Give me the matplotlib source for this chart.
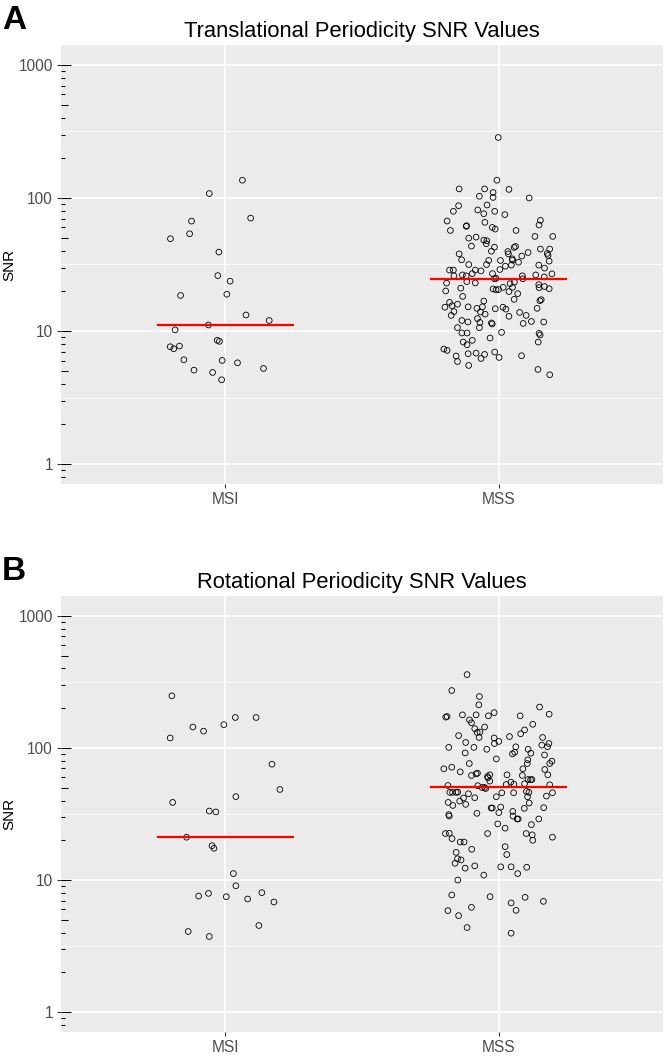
import numpy as np
import matplotlib
matplotlib.use("Agg")
import matplotlib.pyplot as plt

plt.rcParams['font.family'] = ['Liberation Sans', 'DejaVu Sans']

# ---------------- data ----------------
groups = ["MSI", "MSS"]
panel_letters = ["A", "B"]
titles = ["Translational Periodicity SNR Values", "Rotational Periodicity SNR Values"]
y_label = "SNR"
y_ticks = [1, 10, 100, 1000]
y_ticklabels = ["1", "10", "100", "1000"]

transl_msi = [136, 108, 70.6, 67.0, 53.8, 49.4, 39.2, 26.1, 23.7, 18.9, 18.5, 13.2, 12.0, 11.1,
              10.2, 7.62, 7.36, 7.71, 8.51, 8.36, 6.08, 6.01, 5.77, 5.08, 4.88, 5.23, 4.30]
transl_msi_jitter = [0.063, -0.058, 0.093, -0.123, -0.130, -0.200, -0.023, -0.027, 0.018, 0.006,
                     -0.163, 0.076, 0.161, -0.061, -0.183, -0.201, -0.188, -0.167, -0.029, -0.021,
                     -0.151, -0.011, 0.045, -0.114, -0.046, 0.140, -0.013]

transl_mss = [285, 136, 117, 117, 116, 110, 103, 101, 100, 87.5,
              88.5, 79.4, 81.3, 76.2, 79.4, 75.0, 67.1, 67.9, 62.6, 61.9,
              61.2, 65.6, 60.1, 58.4, 57.0, 57.0, 49.9, 50.8, 48.2, 47.7,
              51.4, 51.4, 43.5, 42.7, 41.3, 41.3, 43.2, 42.5, 39.6, 38.0,
              38.0, 39.8, 38.9, 36.6, 38.3, 37.0, 34.3, 33.9, 33.9, 34.9,
              34.1, 32.9, 33.5, 31.6, 31.6, 31.3, 31.3, 28.7, 28.7, 29.0,
              28.7, 28.3, 27.0, 27.0, 29.7, 26.0, 26.4, 26.0, 24.7, 24.9,
              26.0, 24.7, 26.4, 25.5, 26.9, 23.5, 23.0, 22.9, 22.7, 23.3,
              21.0, 20.7, 20.4, 20.5, 21.3, 21.3, 19.8, 22.3, 21.2, 21.6,
              20.8, 20.0, 19.1, 18.2, 17.3, 16.9, 17.2, 16.4, 15.9, 16.8,
              15.5, 15.1, 15.2, 14.8, 15.2, 14.7, 15.1, 14.6, 14.8, 14.0,
              13.1, 13.9, 13.4, 12.9, 13.8, 13.1, 12.4, 12.0, 11.7, 11.6,
              11.5, 11.3, 11.4, 11.8, 11.7, 10.6, 10.6, 9.66, 9.66, 9.77,
              8.86, 9.60, 9.33, 8.26, 8.51, 7.89, 8.26, 7.32, 7.15, 6.75,
              6.82, 6.67, 6.95, 6.33, 6.22, 6.52, 6.49, 5.90, 5.51, 5.14,
              4.69, 45.3, 30.7]
transl_mss_jitter = [-0.002, -0.007, -0.145, -0.052, 0.037, -0.021, -0.071, -0.021, 0.111, -0.147,
                     -0.043, -0.166, -0.077, -0.055, -0.015, 0.022, -0.189, 0.152, 0.147, -0.118,
                     -0.119, -0.051, -0.024, -0.013, -0.177, 0.063, -0.110, -0.083, -0.055, -0.044,
                     0.132, 0.197, -0.100, -0.016, 0.152, 0.186, 0.061, 0.056, 0.033, 0.035,
                     -0.145, -0.027, 0.107, 0.084, 0.177, 0.180, -0.136, -0.037, 0.006, 0.049,
                     0.050, 0.072, 0.184, -0.110, -0.045, 0.046, 0.146, -0.180, -0.166, 0.004,
                     -0.086, -0.065, -0.097, -0.023, 0.167, -0.164, -0.133, -0.119, -0.016, -0.010,
                     0.086, 0.088, 0.135, 0.166, 0.194, -0.117, -0.086, -0.191, 0.041, 0.057,
                     -0.139, -0.021, -0.010, -0.001, 0.016, 0.050, 0.037, 0.146, 0.147, 0.167,
                     0.184, -0.194, 0.069, -0.132, 0.056, 0.150, 0.155, -0.180, -0.151, -0.055,
                     -0.171, -0.197, -0.112, -0.080, -0.060, -0.013, 0.015, 0.026, 0.140, -0.164,
                     -0.174, -0.067, -0.050, 0.037, 0.076, 0.100, -0.078, -0.135, -0.113, -0.069,
                     -0.027, -0.024, 0.089, 0.119, 0.164, -0.151, -0.071, -0.135, -0.116, 0.010,
                     -0.032, 0.147, 0.151, -0.130, -0.097, -0.116, 0.144, -0.201, -0.189, -0.112,
                     -0.083, -0.052, -0.015, 0.001, -0.065, 0.083, -0.156, -0.151, -0.110, 0.143,
                     0.186, -0.046, 0.024]

rot_msi = [248, 119, 144, 134, 150, 170, 170, 75.3, 48.5, 42.8, 38.7, 33.3, 32.8, 21.1,
           18.2, 17.4, 11.2, 9.06, 7.57, 7.93, 7.48, 7.19, 8.03, 6.82, 4.53, 4.08, 3.74]
rot_msi_jitter = [-0.195, -0.201, -0.118, -0.079, -0.005, 0.037, 0.113, 0.171, 0.200, 0.039,
                  -0.192, -0.058, -0.034, -0.141, -0.048, -0.041, 0.030, 0.039, -0.097, -0.061,
                  0.004, 0.082, 0.134, 0.178, 0.123, -0.135, -0.058]

rot_mss = [359, 272, 245, 212, 204, 180, 171, 173, 178, 178,
           175, 185, 175, 163, 155, 151, 140, 144, 131, 132,
           137, 128, 124, 120, 119, 112, 108, 122, 120, 110,
           108, 105, 102, 101, 101, 97.7, 102, 97.7, 91.2, 91.7,
           90.2, 92.7, 88.5, 82.6, 81.3, 76.2, 79.4, 76.2, 69.5, 71.5,
           65.9, 76.2, 69.5, 68.7, 61.9, 63.7, 64.4, 60.8, 62.6, 59.4,
           62.6, 61.9, 62.6, 57.7, 57.7, 57.4, 56.1, 55.1, 53.2, 52.9,
           53.6, 52.0, 51.8, 50.2, 49.3, 50.2, 52.6, 46.1, 46.1, 46.1,
           46.3, 45.0, 45.8, 45.8, 46.9, 46.1, 45.8, 43.2, 41.8, 42.0,
           42.7, 42.7, 38.7, 36.7, 39.6, 37.4, 38.3, 35.1, 35.1, 35.7,
           34.9, 35.3, 32.0, 32.4, 33.1, 30.5, 29.0, 29.0, 31.3, 30.5,
           29.0, 26.6, 26.3, 24.7, 22.5, 22.6, 20.6, 22.5, 22.5, 22.0,
           20.0, 21.1, 19.4, 19.4, 17.1, 17.9, 15.6, 16.2, 14.5, 14.2,
           13.4, 12.3, 12.8, 12.6, 12.6, 12.5, 11.2, 10.9, 10.0, 7.71,
           7.49, 6.71, 5.90, 7.40, 6.90, 5.87, 5.38, 6.22, 4.37, 3.96]
rot_mss_jitter = [-0.116, -0.172, -0.071, -0.073, 0.149, 0.184, -0.194, -0.189, -0.133, -0.083,
                  -0.038, -0.017, 0.078, -0.107, -0.100, 0.124, -0.088, -0.052, -0.079, -0.069,
                  0.094, 0.080, -0.147, -0.072, -0.017, 0.000, -0.016, 0.039, 0.160, -0.121,
                  0.183, 0.157, 0.178, -0.183, -0.091, -0.044, 0.062, 0.107, 0.117, -0.123,
                  0.050, 0.058, 0.167, -0.009, 0.106, 0.104, 0.194, 0.186, -0.201, -0.172,
                  -0.141, -0.108, 0.088, 0.168, -0.100, -0.083, -0.078, -0.041, -0.033, -0.040,
                  0.030, 0.086, 0.179, 0.107, 0.121, 0.116, -0.033, 0.044, 0.055, 0.027,
                  0.094, -0.186, -0.077, -0.061, -0.048, -0.052, 0.186, -0.179, -0.169, -0.156,
                  -0.150, -0.111, 0.011, 0.054, 0.101, 0.110, 0.196, 0.174, -0.129, -0.088,
                  -0.009, 0.105, -0.185, -0.168, -0.143, -0.121, 0.111, -0.028, -0.024, 0.007,
                  0.093, 0.164, -0.080, 0.000, 0.051, 0.052, 0.067, 0.071, -0.183, -0.181,
                  0.146, -0.004, 0.119, 0.023, -0.195, -0.181, -0.171, -0.041, 0.100, 0.122,
                  0.124, 0.196, -0.141, -0.127, -0.099, 0.023, 0.029, -0.156, -0.151, -0.138,
                  -0.160, -0.123, -0.088, 0.007, 0.045, 0.102, 0.069, -0.055, -0.150, -0.172,
                  -0.032, 0.045, 0.063, 0.096, 0.163, -0.186, -0.147, -0.100, -0.116, 0.045]

panels = [
    [(transl_msi, transl_msi_jitter), (transl_mss, transl_mss_jitter)],
    [(rot_msi, rot_msi_jitter), (rot_mss, rot_mss_jitter)],
]

# ---------------- figure ----------------
W, H = 664, 1062
fig = plt.figure(figsize=(W / 100, H / 100), dpi=100)
fig.patch.set_facecolor("white")

# axes boxes in pixels: (left, top, right, bottom)
boxes = [(61, 45, 663, 484), (61, 596, 663, 1032)]
letter_tops = [5, 556]

BG = "#EBEBEB"
TXT = "#4D4D4D"
TICK = "#333333"

for i, (box, pdata) in enumerate(zip(boxes, panels)):
    l, t, r, b = box
    ax = fig.add_axes([l / W, 1 - b / H, (r - l) / W, (b - t) / H])
    ax.set_facecolor(BG)
    for s in ax.spines.values():
        s.set_visible(False)
    ax.set_yscale("log")
    ax.set_ylim(10 ** -0.15, 10 ** 3.15)
    ax.set_xlim(0.4, 2.6)

    # grid
    ax.set_axisbelow(True)
    ax.set_yticks(y_ticks)
    ax.set_yticklabels(y_ticklabels)
    ax.set_yticks([10 ** 0.5, 10 ** 1.5, 10 ** 2.5], minor=True)
    ax.yaxis.set_minor_formatter(matplotlib.ticker.NullFormatter())
    ax.set_xticks([1, 2])
    ax.set_xticklabels(groups)
    ax.grid(True, which="major", color="white", linewidth=1.1)
    ax.grid(True, which="minor", axis="y", color="white", linewidth=0.55)
    ax.tick_params(axis="y", which="minor", length=0)
    ax.tick_params(axis="both", which="major", length=2.8, width=0.8, color=TICK,
                   labelcolor=TXT, labelsize=11.2, pad=3)

    # log ticks inside the panel (annotation_logticks style)
    tr = ax.get_yaxis_transform()
    wpx = r - l
    for e in range(-1, 4):
        for k in range(1, 10):
            v = k * 10.0 ** e
            if not (10 ** -0.15 <= v <= 10 ** 3.15):
                continue
            ln = 10 if k == 1 else (7 if k == 5 else 3.5)
            ax.plot([0, ln / wpx], [v, v], transform=tr, color="black",
                    linewidth=0.75, solid_capstyle="butt", clip_on=False, zorder=3)

    # points and medians
    for gi, (vals, jit) in enumerate(pdata):
        x = (gi + 1) + np.asarray(jit)
        ax.scatter(x, vals, s=17, facecolors="none", edgecolors="black",
                   linewidths=0.6, zorder=4)
        med = np.median(vals)
        ax.plot([gi + 1 - 0.25, gi + 1 + 0.25], [med, med], color="#FF0000",
                linewidth=1.6, zorder=5, solid_capstyle="butt")

    ax.set_title(titles[i], fontsize=15.8, color="black", pad=6)
    fig.text(9 / W, 1 - ((t + b) / 2) / H, y_label, rotation=90, ha="center",
             va="center", fontsize=11, color="black")
    fig.text(2 / W, 1 - letter_tops[i] / H, panel_letters[i], ha="left", va="top",
             fontsize=24, fontweight="bold", color="black")

fig.savefig("out.png", dpi=100, facecolor="white")
